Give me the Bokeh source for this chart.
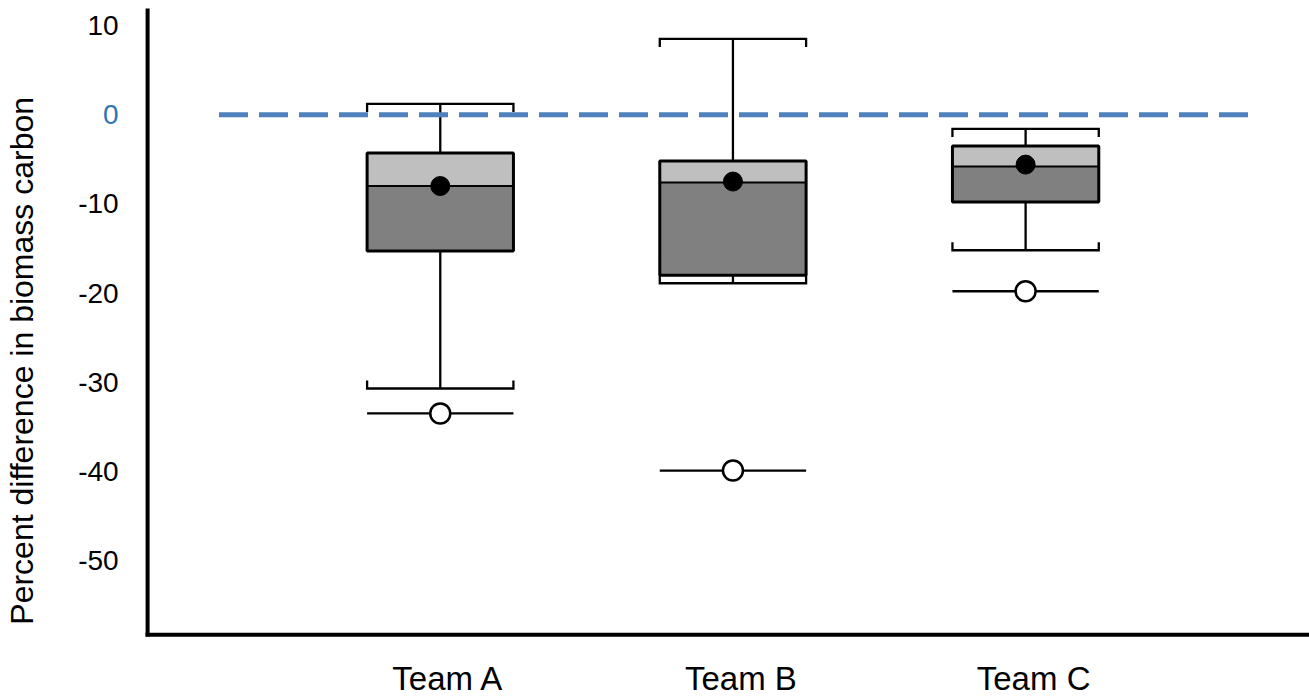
import math

from bokeh.plotting import figure
from bokeh.models import Range1d, ColumnDataSource
from bokeh.core.properties import value
from bokeh.embed import file_html
from bokeh.resources import INLINE

# Box-plot statistics per team (percent difference in biomass carbon)
teams = ["Team A", "Team B", "Team C"]
whisker_high = [1.2, 8.5, -1.6]
upper_quartile = [-4.3, -5.2, -3.5]
median = [-8.0, -7.6, -5.8]
mean = [-8.0, -7.5, -5.6]
lower_quartile = [-15.3, -18.0, -9.8]
whisker_low = [-30.7, -18.9, -15.2]
minimum = [-33.5, -39.9, -19.8]
reference_level = 0
y_ticks = [10, 0, -10, -20, -30, -40, -50]
y_title = "Percent difference in biomass carbon"

FONT = "Liberation Sans"
positions = [1, 2, 3]
HALF = 0.25          # half box width (x units)
CAP_TICK = 0.9       # length of the bracket ends on whisker caps
Y_TOP, Y_FLOOR = 11.9, -58.3   # extent of the drawn y spine / level of x spine
X_RIGHT = 3.97
X_LABEL_Y = -63.2    # baseline of the category labels
TITLE_Y = -27.6      # centre of the rotated y title

# The frame covers the whole canvas; spines, tick labels and titles are drawn
# as glyphs so the zero label can be coloured on its own.
p = figure(
    width=1309, height=698,
    x_range=Range1d(-0.5026, X_RIGHT), y_range=Range1d(-65.46, 12.8),
    output_backend="svg", toolbar_location=None,
    min_border_left=0, min_border_right=0,
    min_border_top=0, min_border_bottom=0,
)
p.outline_line_color = None
p.grid.visible = False
p.axis.visible = False
p.background_fill_color = "white"
p.border_fill_color = "white"

left = [x - HALF for x in positions]
right = [x + HALF for x in positions]

# spines
p.segment(x0=[0], y0=[Y_FLOOR - 0.22], x1=[0], y1=[Y_TOP],
          line_color="black", line_width=4)
p.segment(x0=[-0.007], y0=[Y_FLOOR], x1=[X_RIGHT], y1=[Y_FLOOR],
          line_color="black", line_width=4)

# whiskers
p.segment(x0=positions, y0=upper_quartile, x1=positions, y1=whisker_high,
          line_color="black", line_width=2.3)
p.segment(x0=positions, y0=lower_quartile, x1=positions, y1=whisker_low,
          line_color="black", line_width=2.3)

# bracket-shaped caps
cap_xs, cap_ys = [], []
for l, r, hi, lo in zip(left, right, whisker_high, whisker_low):
    cap_xs.append([l, l, r, r])
    cap_ys.append([hi - CAP_TICK, hi, hi, hi - CAP_TICK])
    cap_xs.append([l, l, r, r])
    cap_ys.append([lo + CAP_TICK, lo, lo, lo + CAP_TICK])
p.multi_line(xs=cap_xs, ys=cap_ys, line_color="black", line_width=2.3,
             line_join="miter")

# boxes: lower half dark, upper half light
p.vbar(x=positions, width=2 * HALF, bottom=lower_quartile, top=median,
       fill_color="#808080", line_color=None)
p.vbar(x=positions, width=2 * HALF, bottom=median, top=upper_quartile,
       fill_color="#BFBFBF", line_color=None)
p.segment(x0=left, y0=median, x1=right, y1=median,
          line_color="black", line_width=2)
p.vbar(x=positions, width=2 * HALF, bottom=lower_quartile, top=upper_quartile,
       fill_color=None, line_color="black", line_width=3)

# minimum markers
p.segment(x0=left, y0=minimum, x1=right, y1=minimum,
          line_color="black", line_width=2.3)
p.scatter(x=positions, y=minimum, marker="circle", size=20,
          fill_color="white", line_color="black", line_width=2.5)

# means
p.scatter(x=positions, y=mean, marker="circle", size=19,
          fill_color="black", line_color="black")

# zero reference line
p.line(x=[0.244, 3.764], y=[reference_level, reference_level],
       line_color="#4F81BD", line_width=5, line_dash="29 11", line_cap="butt")

# y tick labels (zero in blue)
tick_src = ColumnDataSource(dict(
    x=[0] * len(y_ticks),
    y=y_ticks,
    label=[str(v) for v in y_ticks],
    color=["#2E75B6" if v == reference_level else "black" for v in y_ticks],
))
p.text(x="x", y="y", text="label", source=tick_src, x_offset=-29,
       text_align="right", text_baseline="middle", text_color="color",
       text_font=value(FONT), text_font_size="28px")

# y-axis title
p.text(x=[0], y=[TITLE_Y], text=[y_title], angle=math.pi / 2, x_offset=-126,
       text_align="center", text_baseline="alphabetic", text_color="black",
       text_font=value(FONT), text_font_size="32px")

# category labels
p.text(x=positions, y=[X_LABEL_Y] * len(teams), text=teams, x_offset=8,
       text_align="center", text_baseline="alphabetic", text_color="black",
       text_font=value(FONT), text_font_size="33px")

open("out.html", "w").write(file_html(p, INLINE))
